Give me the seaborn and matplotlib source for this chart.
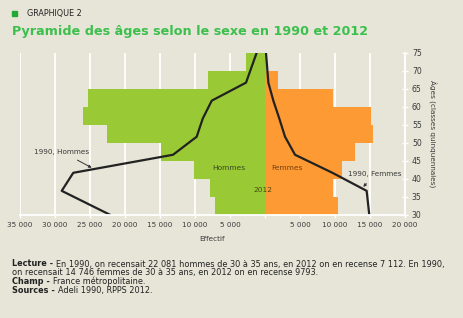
import numpy as np
import pandas as pd
import seaborn as sns
import matplotlib
matplotlib.use("Agg")
import matplotlib.pyplot as plt

# ---- data ----
age_mid = [32.5, 37.5, 42.5, 47.5, 52.5, 57.5, 62.5, 67.5, 72.5]
hommes_2012 = [7200, 7860, 10100, 14860, 22620, 25960, 25240, 8100, 2700]
femmes_2012 = [10480, 9760, 10950, 12860, 15380, 15140, 9760, 1800, 100]

age_1990 = [30, 36.7, 41.7, 46.7, 51.7, 56.7, 61.7, 66.7, 75]
hommes_1990 = [22081, 29040, 27390, 13140, 9760, 8900, 7610, 2710, 1190]
femmes_1990 = [14900, 14520, 9630, 4290, 2860, 2050, 1190, 480, 140]

x_ticks = [-35000, -30000, -25000, -20000, -15000, -10000, -5000, 0,
           5000, 10000, 15000, 20000]
x_labels = ["35 000", "30 000", "25 000", "20 000", "15 000", "10 000",
            "5 000", "", "5 000", "10 000", "15 000", "20 000"]
y_ticks = [30, 35, 40, 45, 50, 55, 60, 65, 70, 75]

BG = "#E6E5D8"
GREEN = "#99CA35"
ORANGE = "#FD9A33"
LINE = "#222222"
TXT = "#3a3a3a"

sns.set_theme(style="white")
plt.rcParams["font.family"] = ["DejaVu Sans"]

fig = plt.figure(figsize=(4.64, 3.18), dpi=100, facecolor=BG)
ax = fig.add_axes([20 / 464, 1 - 215 / 318, 385 / 464, 162.3 / 318])
ax.set_facecolor(BG)

df_h = pd.DataFrame({"age": age_mid, "val": [-v for v in hommes_2012]})
df_f = pd.DataFrame({"age": age_mid, "val": femmes_2012})
sns.barplot(data=df_h, x="val", y="age", orient="h", native_scale=True,
            width=1, color=GREEN, saturation=1, linewidth=0, ax=ax)
sns.barplot(data=df_f, x="val", y="age", orient="h", native_scale=True,
            width=1, color=ORANGE, saturation=1, linewidth=0, ax=ax)

df_h90 = pd.DataFrame({"age": age_1990, "val": [-v for v in hommes_1990]})
df_f90 = pd.DataFrame({"age": age_1990, "val": femmes_1990})
sns.lineplot(data=df_h90, x="val", y="age", orient="y", color=LINE,
             lw=1.6, ax=ax)
sns.lineplot(data=df_f90, x="val", y="age", orient="y", color=LINE,
             lw=1.6, ax=ax)

ax.set_xlim(-35000, 20000)
ax.set_ylim(30, 75)
ax.set_xticks(x_ticks)
ax.set_xticklabels(x_labels)
ax.set_yticks(y_ticks)
ax.yaxis.tick_right()
ax.yaxis.set_label_position("right")
ax.grid(axis="x", color="white", lw=1.3)
ax.grid(axis="y", visible=False)
ax.set_axisbelow(True)
for s in ["top", "left"]:
    ax.spines[s].set_visible(False)
for s in ["right", "bottom"]:
    ax.spines[s].set_color("white")
    ax.spines[s].set_linewidth(1.3)
ax.tick_params(axis="y", colors="white", direction="inout", length=4,
               width=1, labelsize=5.6, labelcolor=TXT, pad=3, right=True,
               left=False)
ax.tick_params(axis="x", colors="white", direction="out", length=2,
               width=1, labelsize=5.2, labelcolor=TXT, pad=3, bottom=True)
ax.set_xlabel("Effectif", fontsize=5.2, color=TXT, labelpad=6)
ax.set_ylabel("Âges (classes quinquennales)", fontsize=5.2, color=TXT,
              rotation=270, labelpad=10)

# in-chart labels
ax.text(-5100, 42.9, "Hommes", fontsize=5.4, color="#3a4a20", ha="center",
        va="center")
ax.text(3100, 42.9, "Femmes", fontsize=5.4, color="#7a3f10", ha="center",
        va="center")
ax.text(-240, 36.9, "2012", fontsize=5.4, color="#4a4a10", ha="center",
        va="center")
ax.annotate("1990, Hommes", xy=(-24760, 43.1), xytext=(-29000, 47.5),
            fontsize=5.2, color=TXT, ha="center", va="center",
            arrowprops=dict(arrowstyle="-|>", color="#333333", lw=0.7,
                            mutation_scale=4, shrinkA=3, shrinkB=0))
ax.annotate("1990, Femmes", xy=(14040, 37.8), xytext=(15700, 41.3),
            fontsize=5.2, color=TXT, ha="center", va="center",
            arrowprops=dict(arrowstyle="-|>", color="#333333", lw=0.7,
                            mutation_scale=4, shrinkA=3, shrinkB=0))

# titles
fig.patches.append(plt.Rectangle((12 / 464, 1 - 16 / 318), 5 / 464, 5 / 318,
                                 transform=fig.transFigure,
                                 color="#22AA33", zorder=5))
fig.text(27 / 464, 1 - 13.5 / 318, "GRAPHIQUE 2", fontsize=5.8,
         color="#222222", va="center", ha="left")
fig.text(12 / 464, 1 - 31 / 318,
         "Pyramide des âges selon le sexe en 1990 et 2012",
         fontsize=9.2, fontweight="bold", color="#3CBF4C", va="center",
         ha="left")

# footnotes
notes = [
    ("Lecture - ", "En 1990, on recensait 22 081 hommes de 30 à 35 ans, en 2012 on en recense 7 112. En 1990,"),
    ("", "on recensait 14 746 femmes de 30 à 35 ans, en 2012 on en recense 9793."),
    ("Champ - ", "France métropolitaine."),
    ("Sources - ", "Adeli 1990, RPPS 2012."),
]
ys = [264, 272.7, 281.5, 290.2]
fig.canvas.draw()
renderer = fig.canvas.get_renderer()
for (b, r), yy in zip(notes, ys):
    x0 = 12 / 464
    if b:
        t = fig.text(x0, 1 - yy / 318, b, fontsize=5.85, fontweight="bold",
                     color="#222222", va="center", ha="left")
        bb = t.get_window_extent(renderer=renderer)
        x0 = bb.x1 / (fig.get_figwidth() * fig.dpi)
    fig.text(x0, 1 - yy / 318, r, fontsize=5.85, color="#222222",
             va="center", ha="left")

fig.savefig("out.png", dpi=100, facecolor=BG)
